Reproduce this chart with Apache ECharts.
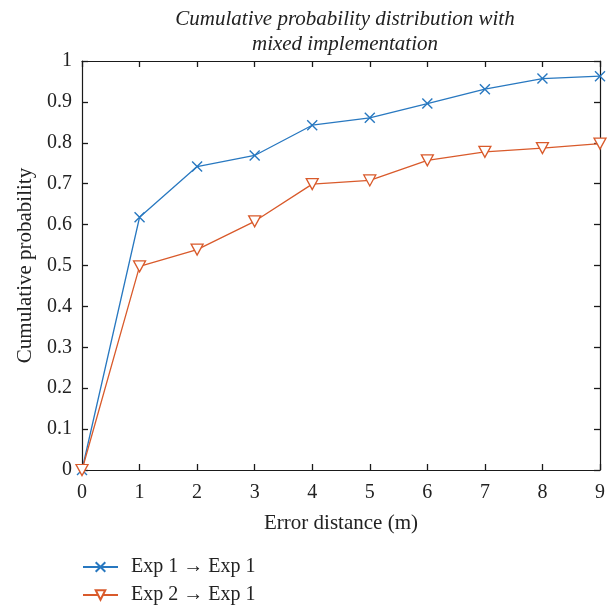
<!DOCTYPE html>
<html><head><meta charset="utf-8">
<script src="https://cdn.jsdelivr.net/npm/echarts@6/dist/echarts.min.js"></script>
<style>html,body{margin:0;padding:0;background:#fff}#c{width:613px;height:610px}</style>
</head><body><div id="c"></div>
<script>
const titleText = 'Cumulative probability distribution with\nmixed implementation';
const xName = 'Error distance (m)';
const yName = 'Cumulative probability';
const xValues = [0, 1, 2, 3, 4, 5, 6, 7, 8, 9];
const exp1 = [0, 0.618, 0.742, 0.769, 0.843, 0.861, 0.896, 0.931, 0.957, 0.963];
const exp2 = [0, 0.498, 0.539, 0.608, 0.699, 0.708, 0.757, 0.778, 0.787, 0.798];
const seriesNames = ['Exp 1 \u2192 Exp 1', 'Exp 2 \u2192 Exp 1'];

const FONT = 'Liberation Serif';
const AX = '#1a1a1a';
const TXT = '#222';
const BLUE = '#2878c0';
const ORANGE = '#d95a2b';

const tick = {show: true, inside: true, length: 6, lineStyle: {color: AX, width: 1.3}};
const line = {show: true, onZero: false, lineStyle: {color: AX, width: 1.2}};

const chart = echarts.init(document.getElementById('c'));
chart.setOption({
  backgroundColor: '#fff',
  animation: false,
  title: {
    text: titleText, left: 340, top: 2, textAlign: 'center',
    textStyle: {fontFamily: FONT, fontStyle: 'italic', fontWeight: 'normal', fontSize: 21, lineHeight: 25, color: TXT}
  },
  legend: {
    orient: 'vertical', left: 82, top: 557, padding: 0, itemWidth: 35, itemHeight: 12, itemGap: 8,
    textStyle: {fontFamily: FONT, fontSize: 20, color: TXT, padding: [0, 0, 0, 8]},
    data: seriesNames
  },
  grid: {left: 82, right: 13, top: 61, bottom: 140},
  xAxis: [
    {
      type: 'value', min: 0, max: 9, interval: 1, position: 'bottom',
      axisLine: line, axisTick: tick, splitLine: {show: false},
      name: xName, nameLocation: 'middle', nameGap: 43,
      nameTextStyle: {fontFamily: FONT, fontSize: 21, color: TXT},
      axisLabel: {fontFamily: FONT, fontSize: 20, color: TXT, margin: 13}
    },
    {
      type: 'value', min: 0, max: 9, interval: 1, position: 'top',
      axisLine: line, axisTick: tick, splitLine: {show: false},
      axisLabel: {show: false}
    }
  ],
  yAxis: [
    {
      type: 'value', min: 0, max: 1, interval: 0.1, position: 'left',
      axisLine: line, axisTick: tick, splitLine: {show: false},
      name: yName, nameLocation: 'middle', nameGap: 46, nameRotate: 90,
      nameTextStyle: {fontFamily: FONT, fontSize: 21, color: TXT},
      axisLabel: {fontFamily: FONT, fontSize: 20, color: TXT, margin: 10}
    },
    {
      type: 'value', min: 0, max: 1, interval: 0.1, position: 'right',
      axisLine: line, axisTick: tick, splitLine: {show: false},
      axisLabel: {show: false}
    }
  ],
  series: [
    {
      name: seriesNames[0], type: 'line', xAxisIndex: 0, yAxisIndex: 0,
      data: xValues.map((x, i) => [x, exp1[i]]),
      symbol: 'path://M0,0L10,10M10,0L0,10', symbolSize: 10,
      showAllSymbol: true,
      lineStyle: {color: BLUE, width: 1.3},
      itemStyle: {color: BLUE, borderColor: BLUE, borderWidth: 1.4}
    },
    {
      name: seriesNames[1], type: 'line', xAxisIndex: 0, yAxisIndex: 0,
      data: xValues.map((x, i) => [x, exp2[i]]),
      symbol: 'path://M0,0L10,0L5,9Z', symbolSize: [12, 11],
      showAllSymbol: true,
      lineStyle: {color: ORANGE, width: 1.3},
      itemStyle: {color: '#fff', borderColor: ORANGE, borderWidth: 1.3}
    }
  ]
});
</script></body></html>
